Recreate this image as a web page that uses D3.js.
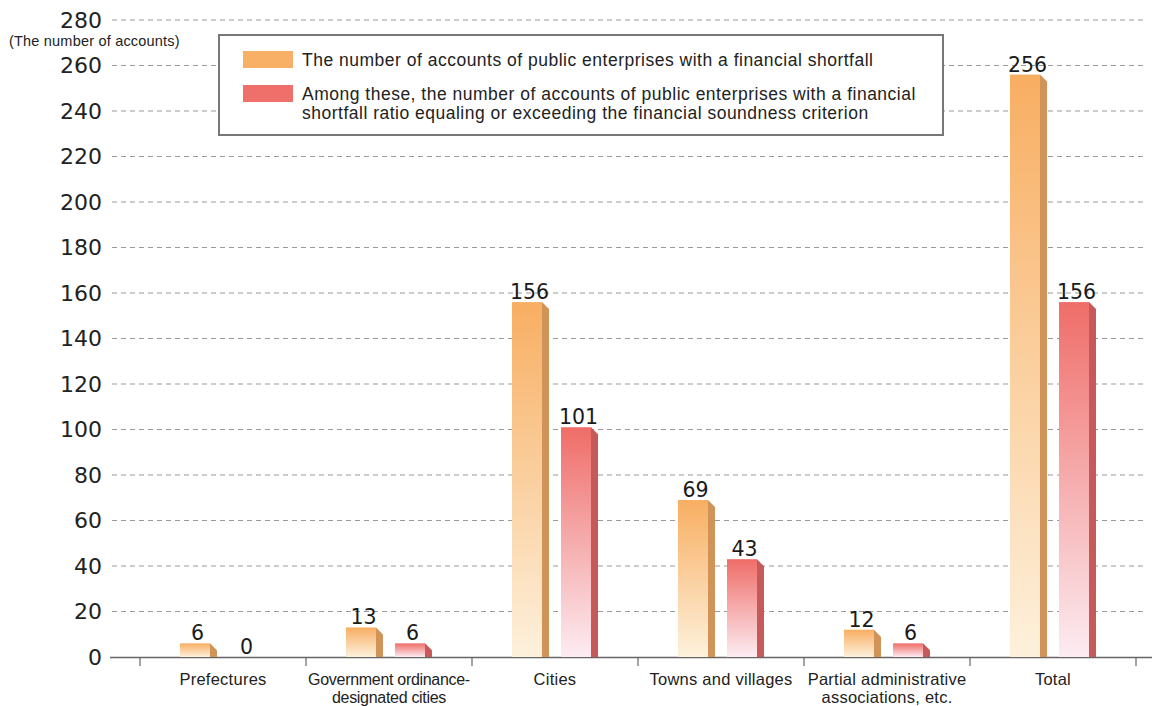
<!DOCTYPE html>
<html><head><meta charset="utf-8">
<script src="https://cdn.jsdelivr.net/npm/d3@7"></script>
<style>body{margin:0;background:#fff}svg{display:block}</style>
</head><body>
<svg id="c" width="1158" height="706"></svg>
<script>
const categories = [["Prefectures"], ["Government ordinance-", "designated cities"], ["Cities"], ["Towns and villages"], ["Partial administrative", "associations, etc."], ["Total"]];
const shortfallAll = [6, 13, 156, 69, 12, 256];
const shortfallOver = [0, 6, 101, 43, 6, 156];
const yTicks = [0, 20, 40, 60, 80, 100, 120, 140, 160, 180, 200, 220, 240, 260, 280];
const legendLabels = [["The number of accounts of public enterprises with a financial shortfall"],
  ["Among these, the number of accounts of public enterprises with a financial", "shortfall ratio equaling or exceeding the financial soundness criterion"]];
const unitLabel = "(The number of accounts)";

const svg = d3.select("#c");
const font = "'Liberation Sans', Arial, sans-serif";
const numFont = "'DejaVu Sans', sans-serif";
const y = d3.scaleLinear().domain([0, 280]).range([657, 20]);
const x = d3.scaleBand().domain(d3.range(categories.length)).range([140, 1136]);

const defs = svg.append("defs");
function grad(id, c1, c2) {
  const g = defs.append("linearGradient").attr("id", id).attr("x1", 0).attr("y1", 0).attr("x2", 0).attr("y2", 1);
  g.append("stop").attr("offset", 0).attr("stop-color", c1);
  g.append("stop").attr("offset", 1).attr("stop-color", c2);
}
grad("gO", "#f8ae62", "#fdf1dc");
grad("gR", "#ef6d68", "#fcecf2");

// gridlines
svg.append("g").selectAll("line").data(yTicks.filter(d => d > 0)).join("line")
  .attr("x1", 112).attr("x2", 1146).attr("y1", d => y(d)).attr("y2", d => y(d))
  .attr("stroke", "#9a9a9a").attr("stroke-width", 1.2).attr("stroke-dasharray", "5,4");

// y labels
svg.append("g").selectAll("text").data(yTicks).join("text")
  .attr("x", 102).attr("y", d => y(d)).attr("dy", "0.36em").attr("text-anchor", "end")
  .attr("font-family", numFont).attr("font-size", 22).attr("fill", "#222").text(d => d);

svg.append("text").attr("x", 9).attr("y", 46).attr("font-family", font).attr("font-size", 14.5)
  .attr("letter-spacing", 0.2).attr("fill", "#222").text(unitLabel);

// axis
svg.append("line").attr("x1", 110).attr("x2", 1152).attr("y1", 657.5).attr("y2", 657.5)
  .attr("stroke", "#666").attr("stroke-width", 1.5);
const tickPos = d3.range(categories.length).map(i => x(i)).concat([x.range()[1]]);
svg.append("g").selectAll("line").data(tickPos).join("line")
  .attr("x1", d => d).attr("x2", d => d).attr("y1", 657).attr("y2", 666)
  .attr("stroke", "#666").attr("stroke-width", 1.2);

// category labels
const cl = svg.append("g").selectAll("text").data(categories).join("text")
  .attr("x", (d, i) => x(i) + x.bandwidth() / 2).attr("y", 685)
  .attr("text-anchor", "middle")
  .attr("font-family", (d, i) => i === 1 ? "'Liberation Sans Narrow', " + font : font)
  .attr("font-size", (d, i) => i === 1 ? 16 : 16.5)
  .attr("letter-spacing", (d, i) => i === 1 ? -0.3 : 0.25)
  .attr("fill", "#222");
cl.selectAll("tspan").data(d => d).join("tspan")
  .attr("x", function () { return d3.select(this.parentNode).attr("x"); })
  .attr("dy", (d, i) => i === 0 ? 0 : 18).text(d => d);

// bars
const side = 7, w = 30;
function drawSeries(vals, off, gid, sideCol) {
  const g = svg.append("g");
  vals.forEach((v, i) => {
    const cx = x(i) + x.bandwidth() / 2;
    const l = cx + off, r = l + w, top = y(v), b = y(0);
    if (v > 0) {
      g.append("rect").attr("x", l).attr("y", top).attr("width", w).attr("height", b - top).attr("fill", `url(#${gid})`);
      const st = Math.min(top + side, b);
      g.append("path").attr("d", `M${r},${top}L${r + side},${st}L${r + side},${b}L${r},${b}Z`).attr("fill", sideCol);
    }
    g.append("text").attr("x", l + (w + side) / 2 - 1).attr("y", top - 3).attr("text-anchor", "middle")
      .attr("font-family", numFont).attr("font-size", 20.5).attr("fill", "#1a1a1a").text(v);
  });
}
drawSeries(shortfallAll, -43, "gO", "#d09458");
drawSeries(shortfallOver, 6, "gR", "#c65a5a");

// legend
const lg = svg.append("g");
lg.append("rect").attr("x", 219).attr("y", 35).attr("width", 724).attr("height", 100)
  .attr("fill", "#fff").attr("stroke", "#777").attr("stroke-width", 2);
const swCols = ["#f8b066", "#ef706b"];
const swY = [51, 85];
legendLabels.forEach((lines, i) => {
  lg.append("rect").attr("x", 243).attr("y", swY[i]).attr("width", 50).attr("height", 17).attr("fill", swCols[i]);
  const t = lg.append("text").attr("x", 302).attr("y", swY[i] + 15).attr("font-family", font)
    .attr("font-size", 17.5).attr("letter-spacing", 0.5).attr("fill", "#222");
  lines.forEach((s, j) => t.append("tspan").attr("x", 302).attr("dy", j === 0 ? 0 : 19).text(s));
});
</script>
</body></html>
